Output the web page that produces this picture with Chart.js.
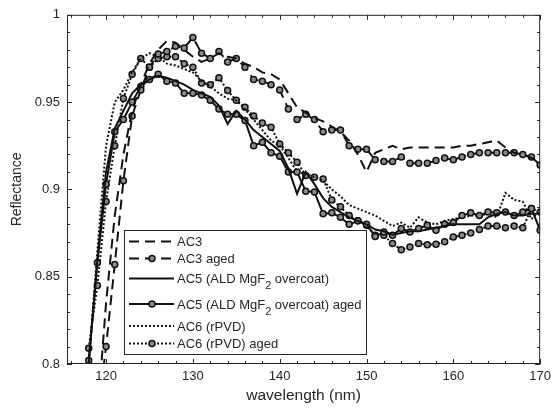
<!DOCTYPE html>
<html>
<head>
<meta charset="utf-8">
<script src="https://cdn.jsdelivr.net/npm/chart.js@4.4.1/dist/chart.umd.min.js"></script>
<style>
  html, body { margin: 0; padding: 0; background: #fff; }
  canvas { display: block; }
</style>
</head>
<body>
<canvas id="grafico" width="556" height="410"></canvas>
<script>
// comprimento de onda (nm)
const wavelength = [118, 119, 120, 121, 122, 123, 124, 125, 126, 127, 128, 129, 130, 131, 132, 133, 134, 135,
  136, 137, 138, 139, 140, 141, 142, 143, 144, 145, 146, 147, 148, 149, 150, 151, 152, 153, 154, 155,
  156, 157, 158, 159, 160, 161, 162, 163, 164, 165, 166, 167, 168, 169, 170];

const ac3 = [0.72, 0.77, 0.835, 0.885, 0.92, 0.945, 0.96, 0.972, 0.98, 0.985, 0.984, 0.98, 0.976, 0.973, 0.975, 0.978, 0.976, 0.975,
  0.972, 0.97, 0.967, 0.966, 0.963, 0.955, 0.947, 0.944, 0.941, 0.939, 0.936, 0.933, 0.928, 0.92, 0.91, 0.921, 0.923, 0.925, 0.923, 0.924,
  0.924, 0.924, 0.924, 0.924, 0.924, 0.925, 0.925, 0.926, 0.927, 0.928, 0.924, 0.921, 0.92, 0.918, 0.915];

const ac3Aged = [null, 0.77, 0.81, 0.857, 0.905, 0.942, 0.957, 0.97, 0.9775, 0.979, 0.982, 0.981, 0.987, 0.978, 0.975, 0.979, 0.973, 0.975,
  0.97, 0.963, 0.962, 0.96, 0.957, 0.946, 0.94, 0.943, 0.94, 0.933, 0.934, 0.934, 0.925, 0.923, 0.923, 0.917, 0.916, 0.916, 0.9185, 0.915,
  0.915, 0.915, 0.9165, 0.918, 0.917, 0.9185, 0.92, 0.921, 0.921, 0.921, 0.921, 0.921, 0.92, 0.9185, 0.914];

const ac5 = [0.8, 0.86, 0.91, 0.935, 0.945, 0.955, 0.96, 0.963, 0.965, 0.964, 0.962, 0.96, 0.957, 0.955, 0.953, 0.948, 0.9375, 0.945,
  0.94, 0.934, 0.93, 0.926, 0.922, 0.912, 0.8975, 0.91, 0.903, 0.895, 0.89, 0.887, 0.884, 0.882, 0.88, 0.877, 0.876, 0.874, 0.875, 0.876,
  0.876, 0.877, 0.878, 0.879, 0.88, 0.88, 0.88, 0.88, 0.884, 0.886, 0.887, 0.885, 0.885, 0.886, 0.886];

const ac5Aged = [0.802, 0.858, 0.903, 0.933, 0.94, 0.95, 0.959, 0.963, 0.966, 0.962, 0.961, 0.955, 0.955, 0.954, 0.951, 0.946, 0.943, 0.943,
  0.9395, 0.925, 0.927, 0.921, 0.919, 0.91, 0.91, 0.899, 0.8985, 0.886, 0.8866, 0.884, 0.88, 0.882, 0.88, 0.873, 0.8756, 0.8737, 0.8776, 0.8756,
  0.8776, 0.8794, 0.8766, 0.88, 0.881, 0.885, 0.8866, 0.885, 0.887, 0.8866, 0.887, 0.885, 0.887, 0.889, 0.8766];

const ac6 = [0.8, 0.865, 0.925, 0.95, 0.957, 0.967, 0.975, 0.978, 0.976, 0.972, 0.971, 0.969, 0.967, 0.962, 0.959, 0.955, 0.952, 0.951,
  0.946, 0.94, 0.934, 0.928, 0.925, 0.918, 0.91, 0.909, 0.907, 0.905, 0.9, 0.896, 0.891, 0.889, 0.887, 0.885, 0.882, 0.879, 0.881, 0.878,
  0.884, 0.881, 0.88, 0.882, 0.883, 0.884, 0.885, 0.885, 0.886, 0.884, 0.898, 0.894, 0.893, 0.883, 0.888];

const ac6Aged = [0.809, 0.845, 0.893, 0.925, 0.952, 0.966, 0.975, 0.97, 0.975, 0.976, 0.976, 0.972, 0.97, 0.961, 0.96, 0.964, 0.9566, 0.951,
  0.947, 0.942, 0.938, 0.9356, 0.926, 0.921, 0.9156, 0.908, 0.907, 0.906, 0.894, 0.89, 0.885, 0.882, 0.8794, 0.8737, 0.8737, 0.869, 0.8655, 0.867,
  0.869, 0.8683, 0.8686, 0.87, 0.8728, 0.8737, 0.875, 0.877, 0.879, 0.879, 0.878, 0.879, 0.878, 0.889, 0.887];

const nomes = ["AC3", "AC3 aged", "AC5 (ALD MgF_2 overcoat)", "AC5 (ALD MgF_2 overcoat) aged", "AC6 (rPVD)", "AC6 (rPVD) aged"];
const xTicks = [120, 130, 140, 150, 160, 170];
const yTicks = [0.8, 0.85, 0.9, 0.95, 1];

const FONTE = "'Liberation Sans', Arial, sans-serif";
const PRETO = '#111';
const EIXO = '#262626';

function pontos(vals) {
  return wavelength.map((w, i) => ({ x: w, y: vals[i] }));
}

function serie(label, vals, dash, marcador) {
  return {
    label: label,
    data: pontos(vals),
    borderColor: PRETO,
    borderWidth: 2,
    borderDash: dash,
    tension: 0,
    pointRadius: marcador ? 3 : 0,
    pointHoverRadius: 0,
    pointBackgroundColor: '#8a8a8a',
    pointBorderColor: PRETO,
    pointBorderWidth: 1.5
  };
}

const tracejado = [10, 6];
const pontilhado = [2, 2];

// moldura com ticks para dentro (estilo matlab) e legenda
const moldura = {
  id: 'moldura',
  afterDatasetsDraw(chart) {
    const { ctx, chartArea: a, scales: { x, y } } = chart;
    ctx.save();
    ctx.strokeStyle = EIXO;
    ctx.lineWidth = 1;
    ctx.strokeRect(a.left + 0.5, a.top + 0.5, a.right - a.left - 1, a.bottom - a.top - 1);
    ctx.beginPath();
    for (let v = 116; v <= 170; v += 2) {
      const px = Math.round(x.getPixelForValue(v)) + 0.5;
      const len = xTicks.includes(v) ? 5 : 3;
      ctx.moveTo(px, a.bottom); ctx.lineTo(px, a.bottom - len);
      ctx.moveTo(px, a.top); ctx.lineTo(px, a.top + len);
    }
    for (let k = 80; k <= 100; k++) {
      const v = k / 100;
      const py = Math.round(y.getPixelForValue(v)) + 0.5;
      const len = (k % 5 === 0) ? 5 : 3;
      ctx.moveTo(a.left, py); ctx.lineTo(a.left + len, py);
      ctx.moveTo(a.right, py); ctx.lineTo(a.right - len, py);
    }
    ctx.stroke();
    ctx.restore();
    desenhaLegenda(chart);
  }
};

function desenhaLegenda(chart) {
  const ctx = chart.ctx;
  ctx.save();
  const bx = 124.5, by = 230.5, bw = 242, bh = 124;
  ctx.fillStyle = '#fff';
  ctx.fillRect(bx, by, bw, bh);
  ctx.strokeStyle = EIXO;
  ctx.lineWidth = 1;
  ctx.strokeRect(bx, by, bw, bh);
  const linhas = [241.5, 258.5, 278.5, 304, 326, 343.5];
  chart.data.datasets.forEach((ds, i) => {
    const yy = linhas[i];
    ctx.strokeStyle = ds.borderColor;
    ctx.lineWidth = ds.borderWidth;
    ctx.setLineDash(ds.borderDash || []);
    ctx.beginPath();
    ctx.moveTo(129, yy);
    ctx.lineTo(174, yy);
    ctx.stroke();
    ctx.setLineDash([]);
    if (ds.pointRadius > 0) {
      ctx.beginPath();
      ctx.arc(152, yy, ds.pointRadius, 0, Math.PI * 2);
      ctx.fillStyle = ds.pointBackgroundColor;
      ctx.fill();
      ctx.lineWidth = ds.pointBorderWidth;
      ctx.strokeStyle = ds.pointBorderColor;
      ctx.stroke();
    }
    // texto com subscrito
    let tx = 177;
    const base = yy + 4.7;
    ctx.fillStyle = EIXO;
    ctx.textBaseline = 'alphabetic';
    ctx.textAlign = 'left';
    ds.label.split(/_(\d)/).forEach((parte, j) => {
      if (j % 2 === 1) {
        ctx.font = '11px ' + FONTE;
        ctx.fillText(parte, tx, base + 6);
      } else {
        ctx.font = '13px ' + FONTE;
        ctx.fillText(parte, tx, base);
      }
      tx += ctx.measureText(parte).width;
    });
  });
  ctx.restore();
}

new Chart(document.getElementById('grafico'), {
  type: 'line',
  data: {
    datasets: [
      serie(nomes[0], ac3, tracejado, false),
      serie(nomes[1], ac3Aged, tracejado, true),
      serie(nomes[2], ac5, [], false),
      serie(nomes[3], ac5Aged, [], true),
      serie(nomes[4], ac6, pontilhado, false),
      serie(nomes[5], ac6Aged, pontilhado, true)
    ]
  },
  options: {
    responsive: false,
    animation: false,
    layout: { padding: { top: 14, right: 13, left: 0, bottom: 0 } },
    plugins: {
      legend: { display: false },
      tooltip: { enabled: false }
    },
    scales: {
      x: {
        type: 'linear',
        min: 115.5,
        max: 170,
        grid: { display: false, drawTicks: false },
        border: { display: false },
        afterBuildTicks: s => { s.ticks = xTicks.map(v => ({ value: v })); },
        afterFit: s => { s.height = 46; },
        ticks: {
          padding: 5,
          maxRotation: 0,
          color: EIXO,
          font: { family: FONTE, size: 13 },
          callback: v => String(v)
        },
        title: {
          display: true,
          text: 'wavelength (nm)',
          color: EIXO,
          font: { family: FONTE, size: 15.5 },
          padding: { top: 0, bottom: 5 }
        }
      },
      y: {
        min: 0.8,
        max: 1,
        grid: { display: false, drawTicks: false },
        border: { display: false },
        afterBuildTicks: s => { s.ticks = yTicks.map(v => ({ value: v })); },
        afterFit: s => { s.width = 67; },
        ticks: {
          padding: 7,
          color: EIXO,
          font: { family: FONTE, size: 13 },
          callback: v => String(v)
        },
        title: {
          display: true,
          text: 'Reflectance',
          color: EIXO,
          font: { family: FONTE, size: 14 },
          padding: { top: 9, bottom: 0 }
        }
      }
    }
  },
  plugins: [moldura]
});
</script>
</body>
</html>
